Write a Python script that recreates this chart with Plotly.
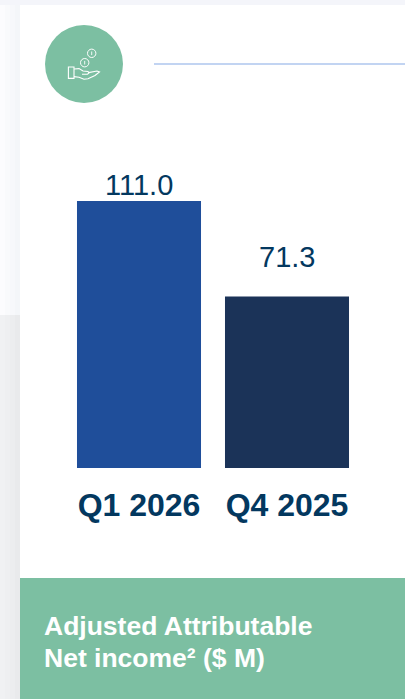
import plotly.graph_objects as go

# Chart data
quarters = ["Q1 2026", "Q4 2025"]
net_income = [111.0, 71.3]
bar_colors = ["#1f4e9a", "#1b3358"]
label_lifts = [-2, 22]
title_lines = ["Adjusted Attributable", "Net income² ($ M)"]

W, H = 405, 699
GREEN = "#7cbfa2"
INK = "#03385f"


def px_x(x):
    return x / W


def px_y(y):
    return 1 - y / H


def rect(x0, y0, x1, y1, color):
    return dict(type="rect", xref="paper", yref="paper", layer="below",
                x0=px_x(x0), x1=px_x(x1), y0=px_y(y0), y1=px_y(y1),
                fillcolor=color, line_width=0)


def circle(cx, cy, r, fill, stroke=None, width=0):
    return dict(type="circle", xref="paper", yref="paper", layer="above",
                x0=px_x(cx - r), x1=px_x(cx + r), y0=px_y(cy + r), y1=px_y(cy - r),
                fillcolor=fill, line=dict(color=stroke or fill, width=width))


def stroke(points, width=1.1, close=False):
    path = "M " + " L ".join(f"{px_x(x):.5f},{px_y(y):.5f}" for x, y in points)
    return dict(type="path", xref="paper", yref="paper", layer="above",
                path=path + (" Z" if close else ""),
                line=dict(color="#ffffff", width=width))


shapes = []

# Page backdrop behind the card, fading towards its left edge
top_shades = ["#fcfcfe", "#f9fafc", "#f7f8fb", "#f4f6f9"]
low_shades = ["#f0f1f3", "#eeeff1", "#ecedef", "#e9eaec"]
for i in range(4):
    shapes.append(rect(i * 5, 0, (i + 1) * 5, 315, top_shades[i]))
    shapes.append(rect(i * 5, 315, (i + 1) * 5, H, low_shades[i]))
shapes.append(rect(0, 0, W, 5, "#f4f5fa"))

# Card, caption band and header rule
shapes.append(rect(20, 5, W, 578, "#ffffff"))
shapes.append(rect(20, 578, W, H, GREEN))
shapes.append(dict(type="line", xref="paper", yref="paper", layer="below",
                   x0=px_x(154), x1=1, y0=px_y(64), y1=px_y(64),
                   line=dict(color="#aec6ee", width=1.4)))

# Badge: an open hand catching two coins
shapes.append(circle(84, 64, 39, GREEN))
shapes.append(circle(91.7, 53.3, 4.2, "rgba(0,0,0,0)", "#ffffff", 1.0))
shapes.append(circle(84.7, 62.7, 4.2, "rgba(0,0,0,0)", "#ffffff", 1.0))
shapes.append(stroke([(91.7, 51.5), (91.7, 55.1)], 0.9))
shapes.append(stroke([(84.7, 60.9), (84.7, 64.5)], 0.9))
shapes.append(stroke([(68.4, 67), (74, 67), (74, 78.4), (68.4, 78.4)], close=True))
shapes.append(stroke([(74, 69), (79, 68.6), (83, 71), (88, 71.4), (89, 73),
                      (87.5, 74.2), (82, 74.2)]))
shapes.append(stroke([(88.5, 72.6), (97, 71), (99.5, 72), (95, 75.5), (88, 78.8),
                      (84, 79.2), (79, 77.2), (74, 76.6)]))

# Value labels sit above each bar at their own distance
annotations = [
    dict(x=q, y=v, xref="x", yref="y", text=f"{v:.1f}", showarrow=False,
         yanchor="bottom", yshift=lift,
         font=dict(family="Liberation Sans", size=29, color=INK))
    for q, v, lift in zip(quarters, net_income, label_lifts)
]

# Caption lines
for line, centre_y in zip(title_lines, [626, 658]):
    annotations.append(dict(x=px_x(41.5), y=px_y(centre_y), xref="paper", yref="paper",
                            text=f"<b>{line}</b>", showarrow=False, xanchor="left",
                            yanchor="middle", align="left",
                            font=dict(family="Liberation Sans", size=26.5, color="#ffffff")))

fig = go.Figure(go.Bar(x=quarters, y=net_income, marker=dict(color=bar_colors, line_width=0),
                       width=0.838, hoverinfo="skip", cliponaxis=False))

fig.update_layout(
    width=W, height=H, margin=dict(l=0, r=0, t=0, b=0, autoexpand=False),
    paper_bgcolor="#ffffff", plot_bgcolor="rgba(0,0,0,0)",
    showlegend=False, shapes=shapes, annotations=annotations,
)
fig.update_xaxes(domain=[px_x(65), px_x(361)], range=[-0.5, 1.5], type="category",
                 showgrid=False, zeroline=False, showline=False,
                 ticks="outside", ticklen=9, tickcolor="rgba(0,0,0,0)",
                 tickfont=dict(family="Liberation Sans", size=32, color=INK, weight="bold"),
                 fixedrange=True)
fig.update_yaxes(domain=[px_y(468), px_y(160)], range=[0, 308 / 2.405],
                 visible=False, fixedrange=True)

fig.write_html("out.html", config=dict(displayModeBar=False))
